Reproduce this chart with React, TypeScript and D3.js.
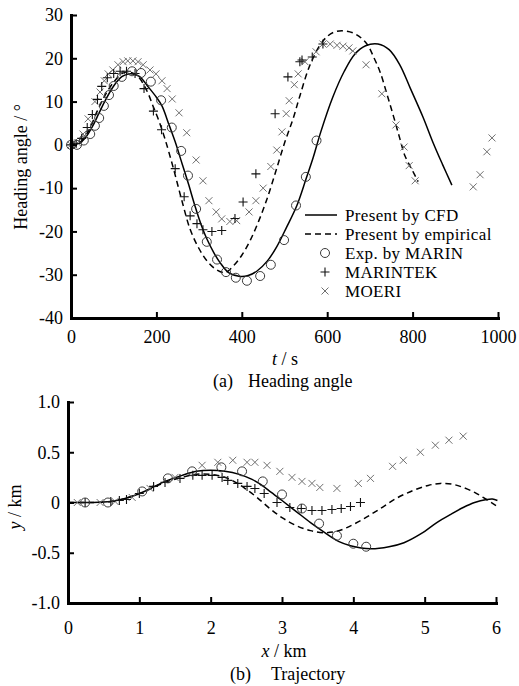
import { useEffect, useRef } from 'react';
import * as d3 from 'd3';

type Pt = [number, number];

// (a) heading angle vs time
const headingCfd: Pt[] = [[0,0],[20,0.4],[35,1.8],[50,4.2],[65,7.2],[80,10.2],[100,13.6],[120,15.8],[140,16.4],[160,15.8],[180,13.5],[200,11],[213,9],[230,4.5],[244,0.7],[260,-4.3],[275,-9],[290,-14],[305,-18.5],[318,-21.7],[335,-25],[349,-27.2],[370,-29.6],[396,-30.4],[415,-30.2],[435,-29.2],[460,-26.8],[482,-23.5],[505,-19],[529,-14],[550,-8],[567,-3],[585,3],[613,11],[640,17],[665,21],[690,22.9],[719,23.3],[745,22],[770,18.5],[795,13],[824,6.5],[848,0.5],[870,-4.5],[892,-9.3]];
const headingEmp: Pt[] = [[0,0],[20,0.5],[40,3],[60,7.5],[80,11.5],[100,14.5],[120,16.5],[135,16.8],[150,16.3],[162,15.2],[180,12],[192,9],[206,5.5],[220,1.4],[240,-5.5],[260,-13],[279,-19.5],[300,-24],[320,-27],[340,-28.8],[361,-29.5],[380,-28],[400,-25.5],[420,-22],[440,-17.5],[459,-12.5],[480,-6],[501,0.7],[520,6],[536,11.3],[560,18.5],[590,24],[615,26],[642,26.3],[668,25.5],[693,23.3],[710,20],[724,16.8],[740,11.7],[755,6.7],[770,1.5],[782,-2.5],[800,-6],[813,-8.5]];
const headingMarin: Pt[] = [[0,0],[14,0],[30,1],[45,2.5],[56,4.4],[66,6.2],[77,9],[89,11.5],[100,13.6],[119,15.7],[143,17],[164,16.6],[187,14.6],[211,10.3],[236,4],[258,-1.4],[274,-7.1],[293,-14.8],[318,-22.4],[342,-26.5],[363,-29.4],[386,-30.7],[412,-31.4],[443,-30.3],[468,-27.7],[499,-22],[527,-14],[550,-7.4],[575,1]];
const headingMarintek: Pt[] = [[0,0],[12,0.3],[25,1.5],[38,4],[50,7],[62,10.5],[72,13.5],[85,15.5],[100,16.5],[115,17],[130,17],[150,16.5],[171,13],[193,7.8],[212,3.5],[244,-5.5],[265,-12],[279,-16.4],[295,-18.2],[309,-19.6],[330,-20],[353,-19.8],[384,-17],[403,-13.2],[433,-6.7],[478,7.2],[508,15.7],[536,19.2],[541,19.6],[565,20.3],[590,23.3]];
const headingMoeri: Pt[] = [[0,0],[15,0.5],[28,2.5],[40,6],[56,10],[68,12.2],[78,14.8],[87,16.4],[98,17.3],[110,18.5],[122,19.2],[133,19.4],[145,19.4],[157,19.2],[169,18.5],[185,17.3],[199,16.4],[213,14.8],[225,13],[237,10.6],[253,7.4],[271,2.8],[293,-3.5],[309,-8.3],[323,-12.9],[340,-15.5],[353,-17.1],[372,-17.7],[388,-17.5],[417,-15.5],[433,-12.9],[450,-10],[468,-5],[482,-1.2],[494,3],[504,7.2],[511,10.2],[523,13.9],[532,16.4],[548,19.2],[574,21.5],[590,23.3],[607,23.3],[623,23],[637,22.8],[651,22.4],[660,21.7],[691,18.5],[728,11.8],[761,4.6],[780,-0.5],[792,-4.8],[806,-8.3],[942,-9.7],[958,-6.9],[974,-1.6],[986,1.6]];

// (b) trajectory
const trajCfd: Pt[] = [[0,0],[0.3,0],[0.6,0.01],[0.8,0.04],[1.04,0.1],[1.36,0.21],[1.6,0.27],[1.8,0.31],[2.0,0.32],[2.2,0.31],[2.4,0.28],[2.58,0.23],[2.7,0.18],[2.85,0.1],[3.0,0.02],[3.2,-0.09],[3.4,-0.2],[3.6,-0.3],[3.8,-0.39],[3.96,-0.43],[4.24,-0.46],[4.5,-0.44],[4.71,-0.4],[4.95,-0.31],[5.17,-0.2],[5.36,-0.12],[5.54,-0.05],[5.7,0],[5.87,0.03],[5.95,0.035],[6.02,0.02]];
const trajEmp: Pt[] = [[0,0],[0.3,0],[0.6,0.01],[0.8,0.04],[1.04,0.1],[1.36,0.2],[1.6,0.25],[1.8,0.28],[2.0,0.28],[2.2,0.25],[2.35,0.2],[2.5,0.13],[2.65,0.05],[2.83,-0.06],[3.0,-0.15],[3.2,-0.23],[3.4,-0.28],[3.58,-0.3],[3.75,-0.29],[3.91,-0.25],[4.15,-0.16],[4.38,-0.06],[4.6,0.04],[4.84,0.12],[5.05,0.17],[5.22,0.19],[5.4,0.18],[5.54,0.15],[5.7,0.1],[5.82,0.05],[6.0,-0.03]];
const trajMarin: Pt[] = [[0.24,0],[0.56,0],[1.04,0.11],[1.4,0.24],[1.74,0.31],[2.15,0.35],[2.44,0.31],[2.73,0.21],[3.0,0.08],[3.28,-0.06],[3.52,-0.21],[3.77,-0.33],[4.0,-0.41],[4.18,-0.44]];
const trajMarintek: Pt[] = [[0.24,0],[0.6,0.01],[0.72,0.02],[0.82,0.03],[1.0,0.09],[1.2,0.16],[1.36,0.2],[1.57,0.24],[1.75,0.27],[1.88,0.27],[2.02,0.27],[2.16,0.25],[2.24,0.22],[2.38,0.19],[2.51,0.16],[2.62,0.14],[2.75,0.09],[2.93,0],[3.11,-0.05],[3.27,-0.06],[3.42,-0.08],[3.56,-0.08],[3.7,-0.07],[3.83,-0.06],[3.96,-0.04],[4.1,0]];
const trajMoeri: Pt[] = [[0.13,0],[0.45,0],[0.66,0.01],[0.9,0.05],[1.15,0.14],[1.5,0.25],[1.88,0.37],[2.1,0.4],[2.31,0.42],[2.51,0.4],[2.62,0.4],[2.79,0.37],[2.97,0.31],[3.14,0.25],[3.28,0.21],[3.42,0.19],[3.53,0.15],[3.77,0.14],[4.07,0.19],[4.24,0.24],[4.55,0.36],[4.7,0.42],[4.94,0.5],[5.15,0.57],[5.34,0.62],[5.54,0.66]];

const headingXTicks = [0, 200, 400, 600, 800, 1000];
const headingYTicks = [-40, -30, -20, -10, 0, 10, 20, 30];
const trajXTicks = [0, 1, 2, 3, 4, 5, 6];
const trajYTicks = [-1, -0.5, 0, 0.5, 1];
const trajYLabels = ['-1.0', '-0.5', '0', '0.5', '1.0'];

const legendNames = ['Present by CFD', 'Present by empirical', 'Exp. by MARIN', 'MARINTEK', 'MOERI'];

const FONT = "'Liberation Serif', 'Times New Roman', serif";
const C_CIRCLE = '#3a3a3a';
const C_PLUS = '#111';
const C_TIMES = '#707070';

type G = d3.Selection<SVGGElement, unknown, null, undefined>;

function drawMarkers(g: G, pts: Pt[], kind: string, x: (v: number) => number, y: (v: number) => number) {
  const sel = g.append('g');
  pts.forEach(([a, b]) => {
    const px = x(a), py = y(b);
    if (kind === 'circle') {
      sel.append('circle').attr('cx', px).attr('cy', py).attr('r', 4.5)
        .attr('fill', 'none').attr('stroke', C_CIRCLE).attr('stroke-width', 1);
    } else if (kind === 'plus') {
      sel.append('path').attr('d', `M${px - 4.5},${py}H${px + 4.5}M${px},${py - 4.5}V${py + 4.5}`)
        .attr('stroke', C_PLUS).attr('stroke-width', 1.1);
    } else {
      sel.append('path').attr('d', `M${px - 3.5},${py - 3.5}L${px + 3.5},${py + 3.5}M${px - 3.5},${py + 3.5}L${px + 3.5},${py - 3.5}`)
        .attr('stroke', C_TIMES).attr('stroke-width', 1);
    }
  });
}

function drawAxes(g: G, x: d3.ScaleLinear<number, number>, y: d3.ScaleLinear<number, number>,
  xTicks: number[], yTicks: number[], xFmt: (d: number) => string, yFmt: (d: number) => string, xPad: number) {
  const [y0] = y.range();
  const [x0] = x.range();
  const ax = g.append('g').attr('transform', `translate(0,${y0})`)
    .call(d3.axisBottom(x).tickValues(xTicks).tickSizeInner(-6).tickSizeOuter(0).tickPadding(xPad)
      .tickFormat((d) => xFmt(d as number)));
  const ay = g.append('g').attr('transform', `translate(${x0},0)`)
    .call(d3.axisLeft(y).tickValues(yTicks).tickSizeInner(-6).tickSizeOuter(0).tickPadding(8)
      .tickFormat((d) => yFmt(d as number)));
  [ax, ay].forEach((a) => {
    a.select('.domain').attr('stroke', '#000').attr('stroke-width', 3).attr('stroke-linecap', 'square');
    a.selectAll('.tick line').attr('stroke', '#000').attr('stroke-width', 2);
    a.selectAll('.tick text').attr('fill', '#000').attr('font-family', FONT).attr('font-size', 18);
  });
  ax.selectAll('.tick text').attr('dy', '0.9em');
}

export default function App() {
  const svgRef = useRef<SVGSVGElement>(null);

  useEffect(() => {
    if (!svgRef.current) return;
    const svg = d3.select(svgRef.current);
    svg.selectAll('*').remove();
    const root = svg.append('g') as G;

    // ---- (a) heading angle
    const xa = d3.scaleLinear().domain([0, 1000]).range([71, 498]);
    const ya = d3.scaleLinear().domain([-40, 30]).range([318, 15]);
    const ga = root.append('g') as G;

    const lineA = d3.line<Pt>().x((d) => xa(d[0])).y((d) => ya(d[1])).curve(d3.curveCatmullRom);
    ga.append('path').attr('d', lineA(headingCfd)).attr('fill', 'none').attr('stroke', '#000').attr('stroke-width', 1.5);
    ga.append('path').attr('d', lineA(headingEmp)).attr('fill', 'none').attr('stroke', '#000').attr('stroke-width', 1.5)
      .attr('stroke-dasharray', '6,4');
    drawMarkers(ga, headingMoeri, 'times', xa, ya);
    drawMarkers(ga, headingMarintek, 'plus', xa, ya);
    drawMarkers(ga, headingMarin, 'circle', xa, ya);
    drawAxes(ga, xa, ya, headingXTicks, headingYTicks, (d) => String(d), (d) => String(d), 9);

    // legend
    const lg = ga.append('g');
    const rows = [215, 234, 253, 272, 291];
    lg.append('line').attr('x1', 305).attr('x2', 337).attr('y1', rows[0]).attr('y2', rows[0])
      .attr('stroke', '#000').attr('stroke-width', 1.5);
    lg.append('line').attr('x1', 305).attr('x2', 337).attr('y1', rows[1]).attr('y2', rows[1])
      .attr('stroke', '#000').attr('stroke-width', 1.5).attr('stroke-dasharray', '6,4');
    const idx = (v: number) => v;
    drawMarkers(lg as G, [[325, rows[2]]], 'circle', idx, idx);
    drawMarkers(lg as G, [[325, rows[3]]], 'plus', idx, idx);
    drawMarkers(lg as G, [[325, rows[4]]], 'times', idx, idx);
    legendNames.forEach((n, i) => {
      lg.append('text').attr('x', 345).attr('y', rows[i]).attr('dy', '0.33em')
        .attr('font-family', FONT).attr('font-size', 17).attr('letter-spacing', 0.35).text(n);
    });

    // titles (a)
    ga.append('text').attr('transform', 'translate(27,167) rotate(-90)').attr('text-anchor', 'middle')
      .attr('font-family', FONT).attr('font-size', 18).text('Heading angle / °');
    const ta = ga.append('text').attr('x', 285).attr('y', 365).attr('text-anchor', 'middle')
      .attr('font-family', FONT).attr('font-size', 18);
    ta.append('tspan').attr('font-style', 'italic').text('t');
    ta.append('tspan').text(' / s');
    ga.append('text').attr('x', 213).attr('y', 387).attr('font-family', FONT).attr('font-size', 18).text('(a)');
    ga.append('text').attr('x', 248).attr('y', 387).attr('font-family', FONT).attr('font-size', 18).text('Heading angle');

    // ---- (b) trajectory
    const xb = d3.scaleLinear().domain([0, 6]).range([68, 496]);
    const yb = d3.scaleLinear().domain([-1, 1]).range([603, 402]);
    const gb = root.append('g') as G;
    const lineB = d3.line<Pt>().x((d) => xb(d[0])).y((d) => yb(d[1])).curve(d3.curveCatmullRom);
    gb.append('path').attr('d', lineB(trajCfd)).attr('fill', 'none').attr('stroke', '#000').attr('stroke-width', 1.5);
    gb.append('path').attr('d', lineB(trajEmp)).attr('fill', 'none').attr('stroke', '#000').attr('stroke-width', 1.5)
      .attr('stroke-dasharray', '6,4');
    drawMarkers(gb, trajMoeri, 'times', xb, yb);
    drawMarkers(gb, trajMarintek, 'plus', xb, yb);
    drawMarkers(gb, trajMarin, 'circle', xb, yb);
    drawAxes(gb, xb, yb, trajXTicks, trajYTicks, (d) => String(d),
      (d) => trajYLabels[trajYTicks.indexOf(d)], 15);

    const ty = gb.append('text').attr('transform', 'translate(21,507) rotate(-90)').attr('text-anchor', 'middle')
      .attr('font-family', FONT).attr('font-size', 18);
    ty.append('tspan').attr('font-style', 'italic').text('y');
    ty.append('tspan').text(' / km');
    const tx = gb.append('text').attr('x', 284).attr('y', 657).attr('text-anchor', 'middle')
      .attr('font-family', FONT).attr('font-size', 18);
    tx.append('tspan').attr('font-style', 'italic').text('x');
    tx.append('tspan').text(' / km');
    gb.append('text').attr('x', 230).attr('y', 680).attr('font-family', FONT).attr('font-size', 18).text('(b)');
    gb.append('text').attr('x', 271).attr('y', 680).attr('font-family', FONT).attr('font-size', 18).text('Trajectory');
  }, []);

  return (
    <div style={{ position: 'absolute', left: 0, top: 0, width: 519, height: 686, background: 'white' }}>
      <svg ref={svgRef} width={519} height={686} style={{ display: 'block' }}></svg>
    </div>
  );
}
